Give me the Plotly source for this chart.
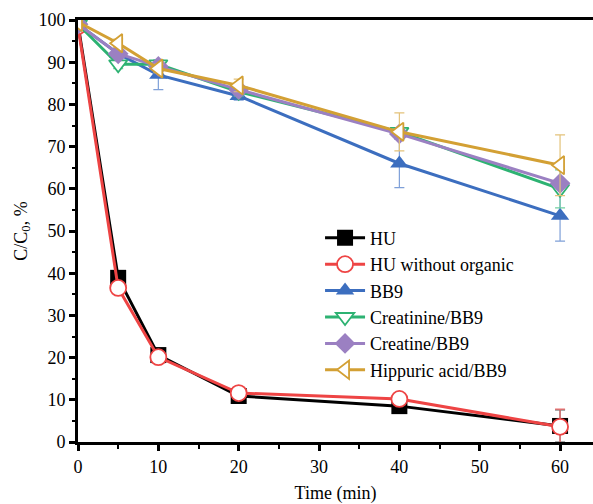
import plotly.graph_objects as go

time = [0, 5, 10, 20, 40, 60]

hu = [99.0, 38.9, 20.6, 10.9, 8.5, 3.8]
hu_err = [0.5, 1.0, 1.0, 0.8, 0.8, 3.8]
hu_wo = [98.5, 36.5, 20.1, 11.6, 10.2, 3.6]
hu_wo_err = [0.5, 1.0, 1.0, 0.8, 0.8, 4.2]
bb9 = [99.0, 92.0, 87.0, 82.0, 66.0, 53.6]
bb9_err = [0.5, 1.5, 3.5, 1.0, 5.7, 6.0]
creatinine = [99.0, 89.5, 89.5, 83.0, 73.5, 60.0]
creatinine_err = [0.5, 1.0, 1.0, 1.0, 1.0, 4.5]
creatine = [99.0, 92.0, 89.0, 83.5, 73.0, 61.3]
creatine_err = [0.5, 1.0, 1.0, 1.0, 1.0, 1.0]
hippuric = [99.5, 94.5, 88.5, 84.5, 73.5, 65.6]
hippuric_err = [0.5, 1.0, 1.0, 1.5, 4.5, 7.2]

series = [
    ("HU", hu, hu_err, "#000000", "#555555", "square", "#000000"),
    ("HU without organic", hu_wo, hu_wo_err, "#EE4444", "#F07070", "circle-open", None),
    ("BB9", bb9, bb9_err, "#3C6EBF", "#7FA0D8", "triangle-up", "#3C6EBF"),
    ("Creatinine/BB9", creatinine, creatinine_err, "#2DB272", "#6FCFA0", "triangle-down-open", None),
    ("Creatine/BB9", creatine, creatine_err, "#9B80C2", "#B9A4D8", "diamond", "#9B80C2"),
    ("Hippuric acid/BB9", hippuric, hippuric_err, "#D3A034", "#E3C27A", "triangle-left-open", None),
]

fig = go.Figure()
for name, ys, errs, color, ecolor, symbol, fill in series:
    marker = dict(symbol=symbol, size=16, color=color)
    if fill is None:
        marker = dict(symbol=symbol.replace("-open", ""), size=16, color="white",
                      line=dict(color=color, width=1.8))
    fig.add_trace(go.Scatter(
        x=time, y=ys, name=name, mode="lines+markers",
        line=dict(color=color, width=3),
        marker=marker,
        error_y=dict(type="data", array=errs, visible=True, color=ecolor, thickness=1.2, width=5),
    ))

font_family = '"Liberation Serif", "Times New Roman", "DejaVu Serif", serif'
fig.update_layout(
    width=593, height=504,
    margin=dict(l=78, r=0, t=20, b=62),
    paper_bgcolor="white", plot_bgcolor="white",
    font=dict(family=font_family, size=18, color="black"),
    showlegend=True,
    legend=dict(x=0.47, y=0.527, xanchor="left", yanchor="top",
                bgcolor="rgba(0,0,0,0)", font=dict(family=font_family, size=18),
                tracegroupgap=0, itemwidth=40),
    xaxis=dict(range=[0, 64.1], showline=True, linecolor="black", linewidth=3,
               mirror=True, ticks="outside", ticklen=6, tickwidth=2.5, tickcolor="black",
               tick0=0, dtick=10, showgrid=False, zeroline=False,
               tickfont=dict(family=font_family, size=18),
               minor=dict(ticks="outside", ticklen=3.5, tickwidth=2, tickcolor="black", dtick=5, showgrid=False),
               title=dict(text="Time (min)", font=dict(family=font_family, size=18), standoff=11)),
    yaxis=dict(range=[0, 100], showline=True, linecolor="black", linewidth=3,
               mirror=False, ticks="outside", ticklen=6, tickwidth=2.5, tickcolor="black",
               tick0=0, dtick=10, showgrid=False, zeroline=False,
               tickfont=dict(family=font_family, size=18),
               minor=dict(ticks="outside", ticklen=3.5, tickwidth=2, tickcolor="black", dtick=5, showgrid=False),
               title=dict(text="C/C<sub>0</sub>, %", font=dict(family=font_family, size=18), standoff=7)),
)

fig.write_html("out.html")
